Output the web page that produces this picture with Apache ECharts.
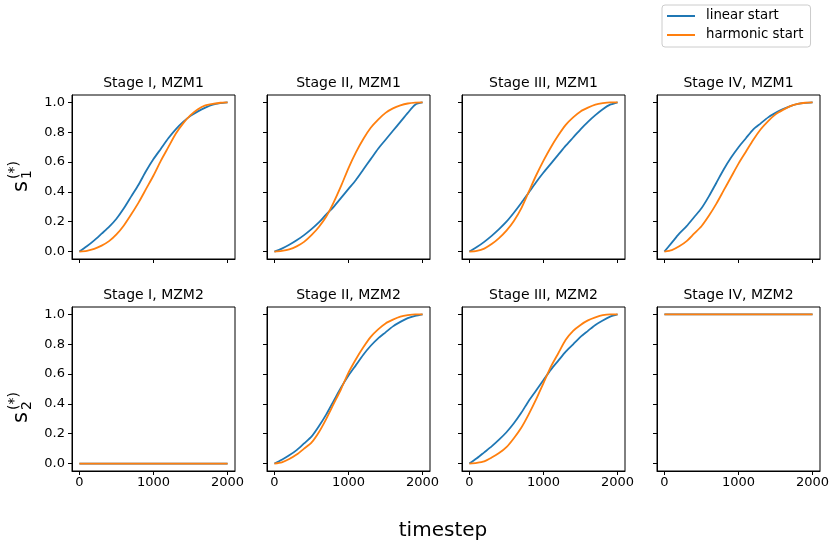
<!DOCTYPE html>
<html>
<head>
<meta charset="utf-8">
<script src="https://cdn.jsdelivr.net/npm/echarts@6/dist/echarts.min.js"></script>
<style>
  html, body { margin: 0; padding: 0; background: #fff; }
  #chart { width: 831px; height: 548px; }
</style>
</head>
<body>
<div id="chart"></div>
<script>
// data
const timesteps = [0, 100, 200, 300, 400, 500, 600, 700, 800, 900, 1000, 1100, 1200, 1300, 1400, 1500, 1600, 1700, 1800, 1900, 2000];
const xTicks = [0, 1000, 2000];
const yTicks = [0, 0.2, 0.4, 0.6, 0.8, 1.0];
const seriesNames = ['linear start', 'harmonic start'];

const stageI_mzm1_linear = [0, 0.035, 0.075, 0.12, 0.165, 0.22, 0.29, 0.37, 0.45, 0.54, 0.62, 0.69, 0.76, 0.82, 0.87, 0.91, 0.94, 0.965, 0.985, 0.995, 1.0];
const stageI_mzm1_harmonic = [0, 0.005, 0.018, 0.04, 0.07, 0.115, 0.175, 0.25, 0.33, 0.42, 0.51, 0.61, 0.70, 0.79, 0.86, 0.915, 0.955, 0.98, 0.99, 0.998, 1.0];
const stageII_mzm1_linear = [0, 0.02, 0.045, 0.075, 0.11, 0.15, 0.195, 0.25, 0.30, 0.36, 0.42, 0.48, 0.55, 0.62, 0.69, 0.75, 0.81, 0.87, 0.93, 0.985, 1.0];
const stageII_mzm1_harmonic = [0, 0.005, 0.015, 0.035, 0.065, 0.11, 0.165, 0.235, 0.33, 0.44, 0.56, 0.665, 0.755, 0.83, 0.885, 0.93, 0.96, 0.98, 0.993, 0.999, 1.0];
const stageIII_mzm1_linear = [0, 0.03, 0.065, 0.105, 0.15, 0.20, 0.26, 0.325, 0.395, 0.465, 0.53, 0.59, 0.65, 0.71, 0.765, 0.82, 0.87, 0.915, 0.955, 0.985, 1.0];
const stageIII_mzm1_harmonic = [0, 0.005, 0.02, 0.05, 0.09, 0.14, 0.205, 0.29, 0.40, 0.51, 0.61, 0.70, 0.78, 0.85, 0.90, 0.94, 0.965, 0.985, 0.995, 1.0, 1.0];
const stageIV_mzm1_linear = [0, 0.06, 0.12, 0.17, 0.23, 0.29, 0.37, 0.46, 0.55, 0.63, 0.70, 0.76, 0.82, 0.86, 0.90, 0.93, 0.955, 0.975, 0.99, 0.997, 1.0];
const stageIV_mzm1_harmonic = [0, 0.01, 0.035, 0.07, 0.12, 0.17, 0.24, 0.32, 0.41, 0.50, 0.59, 0.67, 0.75, 0.82, 0.875, 0.92, 0.95, 0.975, 0.99, 0.998, 1.0];

const stageI_mzm2_linear = [0, 0, 0, 0, 0, 0, 0, 0, 0, 0, 0, 0, 0, 0, 0, 0, 0, 0, 0, 0, 0];
const stageI_mzm2_harmonic = [0, 0, 0, 0, 0, 0, 0, 0, 0, 0, 0, 0, 0, 0, 0, 0, 0, 0, 0, 0, 0];
const stageII_mzm2_linear = [0, 0.025, 0.055, 0.09, 0.135, 0.18, 0.25, 0.33, 0.42, 0.51, 0.59, 0.66, 0.73, 0.79, 0.84, 0.88, 0.92, 0.95, 0.975, 0.99, 1.0];
const stageII_mzm2_harmonic = [0, 0.008, 0.03, 0.06, 0.10, 0.14, 0.21, 0.30, 0.40, 0.50, 0.61, 0.70, 0.78, 0.85, 0.90, 0.94, 0.965, 0.985, 0.995, 1.0, 1.0];
const stageIII_mzm2_linear = [0, 0.035, 0.075, 0.115, 0.16, 0.21, 0.27, 0.34, 0.42, 0.49, 0.56, 0.63, 0.69, 0.75, 0.80, 0.85, 0.89, 0.93, 0.96, 0.985, 1.0];
const stageIII_mzm2_harmonic = [0, 0.005, 0.015, 0.04, 0.07, 0.11, 0.17, 0.24, 0.33, 0.43, 0.54, 0.65, 0.74, 0.83, 0.89, 0.93, 0.96, 0.98, 0.995, 1.0, 1.0];
const stageIV_mzm2_linear = [1, 1, 1, 1, 1, 1, 1, 1, 1, 1, 1, 1, 1, 1, 1, 1, 1, 1, 1, 1, 1];
const stageIV_mzm2_harmonic = [1, 1, 1, 1, 1, 1, 1, 1, 1, 1, 1, 1, 1, 1, 1, 1, 1, 1, 1, 1, 1];

const panels = [
  ['Stage I, MZM1', stageI_mzm1_linear, stageI_mzm1_harmonic],
  ['Stage II, MZM1', stageII_mzm1_linear, stageII_mzm1_harmonic],
  ['Stage III, MZM1', stageIII_mzm1_linear, stageIII_mzm1_harmonic],
  ['Stage IV, MZM1', stageIV_mzm1_linear, stageIV_mzm1_harmonic],
  ['Stage I, MZM2', stageI_mzm2_linear, stageI_mzm2_harmonic],
  ['Stage II, MZM2', stageII_mzm2_linear, stageII_mzm2_harmonic],
  ['Stage III, MZM2', stageIII_mzm2_linear, stageIII_mzm2_harmonic],
  ['Stage IV, MZM2', stageIV_mzm2_linear, stageIV_mzm2_harmonic]
];

const FONT = 'DejaVu Sans';
const colors = ['#1f77b4', '#ff7f0e'];
const lefts = [72, 267, 462, 657];
const tops = [95, 307];
const W = 163, H = 164;

const grids = [], xAxes = [], yAxes = [], titles = [], series = [];

panels.forEach((p, i) => {
  const row = Math.floor(i / 4), col = i % 4;
  grids.push({
    left: lefts[col], top: tops[row], width: W, height: H,
    show: true, borderColor: '#000', borderWidth: 1,
    backgroundColor: 'transparent', outerBoundsMode: 'none'
  });
  xAxes.push({
    type: 'value', gridIndex: i, min: -100, max: 2100,
    axisLine: { show: true, onZero: false, lineStyle: { color: '#000', width: 1 } },
    splitLine: { show: false },
    axisTick: { show: true, length: 4, customValues: xTicks, lineStyle: { color: '#000' } },
    axisLabel: {
      show: row === 1, customValues: xTicks, margin: 5,
      color: '#000', fontSize: 13, fontFamily: FONT,
      formatter: v => String(v)
    }
  });
  yAxes.push({
    type: 'value', gridIndex: i, min: -0.05, max: 1.05,
    axisLine: { show: true, onZero: false, lineStyle: { color: '#000', width: 1 } },
    splitLine: { show: false },
    axisTick: { show: true, length: 4, customValues: yTicks, lineStyle: { color: '#000' } },
    axisLabel: {
      show: col === 0, customValues: yTicks, margin: 7,
      color: '#000', fontSize: 13, fontFamily: FONT,
      formatter: v => v.toFixed(1)
    }
  });
  titles.push({
    text: p[0], left: lefts[col] + W / 2, top: row === 0 ? 76 : 288,
    textAlign: 'center', padding: 0,
    textStyle: { fontSize: 14, fontWeight: 'normal', color: '#000', fontFamily: FONT }
  });
  [p[1], p[2]].forEach((vals, k) => {
    series.push({
      name: seriesNames[k], type: 'line', xAxisIndex: i, yAxisIndex: i,
      data: timesteps.map((t, j) => [t, vals[j]]),
      symbol: 'none', smooth: 0.25,
      color: colors[k],
      lineStyle: { width: 1.8, color: colors[k] },
      z: 2 + k
    });
  });
});

titles.push({
  text: 'timestep', left: 443, top: 521, textAlign: 'center', padding: 0,
  textStyle: { fontSize: 20, fontWeight: 'normal', color: '#000', fontFamily: FONT }
});

// rotated y labels s_1^(*) and s_2^(*)
function yLabel(gy, sub) {
  return {
    type: 'group', x: 32, y: gy, rotation: Math.PI / 2,
    children: [
      { type: 'text', x: 0, y: 0, style: { text: 's', fontSize: 21, fontFamily: FONT, fill: '#000', verticalAlign: 'bottom', align: 'left' } },
      { type: 'text', x: 13, y: 2, style: { text: sub, fontSize: 14, fontFamily: FONT, fill: '#000', verticalAlign: 'bottom', align: 'left' } },
      { type: 'text', x: 13, y: -11, style: { text: '(*)', fontSize: 14, fontFamily: FONT, fill: '#000', verticalAlign: 'bottom', align: 'left' } }
    ]
  };
}

const chart = echarts.init(document.getElementById('chart'), null, { renderer: 'canvas' });
chart.setOption({
  animation: false,
  backgroundColor: '#fff',
  title: titles,
  legend: {
    data: seriesNames, orient: 'vertical', left: 662, top: 5,
    icon: 'path://M0,0H28V2H0Z',
    itemWidth: 28, itemHeight: 2, itemGap: 3,
    padding: [3, 7, 4, 5],
    borderColor: '#ccc', borderWidth: 1, borderRadius: 3, backgroundColor: '#fff',
    textStyle: { fontSize: 13.3, lineHeight: 16, color: '#000', fontFamily: FONT, padding: [0, 0, 0, 6] }
  },
  grid: grids,
  xAxis: xAxes,
  yAxis: yAxes,
  series: series,
  graphic: [yLabel(192, '1'), yLabel(423, '2')]
});
</script>
</body>
</html>
